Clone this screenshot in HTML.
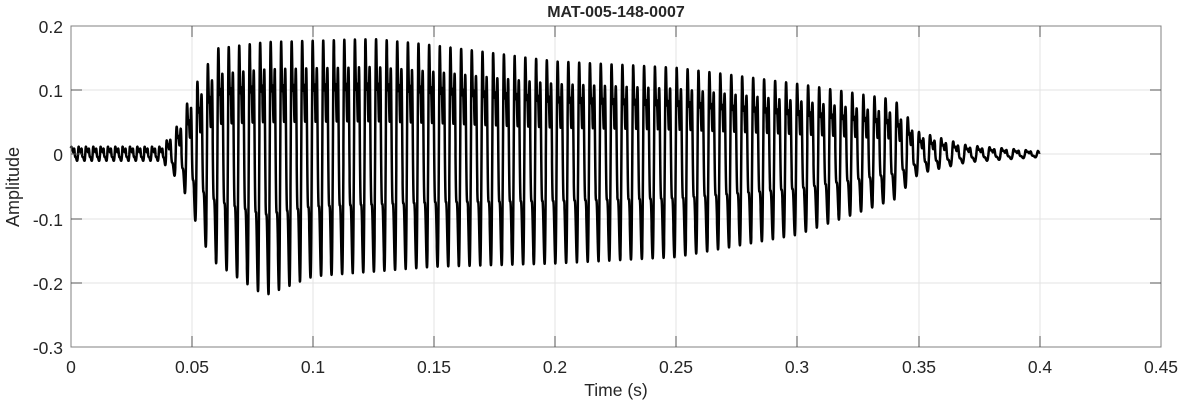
<!DOCTYPE html>
<html><head><meta charset="utf-8"><style>
body{margin:0;background:#fff;}
svg text{font-family:"Liberation Sans",Arial,sans-serif;fill:#262626;}
</style></head><body>
<svg id="s" width="1182" height="404" xmlns="http://www.w3.org/2000/svg">
<rect width="1182" height="404" fill="#fff"/>
<g stroke="#e3e3e3" stroke-width="1">
<line x1="192" y1="26" x2="192" y2="347"/><line x1="313" y1="26" x2="313" y2="347"/><line x1="434" y1="26" x2="434" y2="347"/><line x1="555" y1="26" x2="555" y2="347"/><line x1="676" y1="26" x2="676" y2="347"/><line x1="797" y1="26" x2="797" y2="347"/><line x1="919" y1="26" x2="919" y2="347"/><line x1="1040" y1="26" x2="1040" y2="347"/>
<line x1="71" y1="90" x2="1161" y2="90"/><line x1="71" y1="154" x2="1161" y2="154"/><line x1="71" y1="219" x2="1161" y2="219"/><line x1="71" y1="283" x2="1161" y2="283"/>
</g>
<path id="w" fill="none" stroke="#000" stroke-width="2.5" stroke-linejoin="round" d=""/>
<rect x="71" y="26" width="1090" height="321" fill="none" stroke="#808080" stroke-width="1"/>
<g stroke="#555" stroke-width="1">
<line x1="192" y1="347" x2="192" y2="336"/><line x1="313" y1="347" x2="313" y2="336"/><line x1="434" y1="347" x2="434" y2="336"/><line x1="555" y1="347" x2="555" y2="336"/><line x1="676" y1="347" x2="676" y2="336"/><line x1="797" y1="347" x2="797" y2="336"/><line x1="919" y1="347" x2="919" y2="336"/><line x1="1040" y1="347" x2="1040" y2="336"/>
<line x1="192" y1="26" x2="192" y2="37"/><line x1="313" y1="26" x2="313" y2="37"/><line x1="434" y1="26" x2="434" y2="37"/><line x1="555" y1="26" x2="555" y2="37"/><line x1="676" y1="26" x2="676" y2="37"/><line x1="797" y1="26" x2="797" y2="37"/><line x1="919" y1="26" x2="919" y2="37"/><line x1="1040" y1="26" x2="1040" y2="37"/>
<line x1="71" y1="90" x2="82" y2="90"/><line x1="71" y1="154" x2="82" y2="154"/><line x1="71" y1="219" x2="82" y2="219"/><line x1="71" y1="283" x2="82" y2="283"/>
<line x1="1161" y1="90" x2="1150" y2="90"/><line x1="1161" y1="154" x2="1150" y2="154"/><line x1="1161" y1="219" x2="1150" y2="219"/><line x1="1161" y1="283" x2="1150" y2="283"/>
</g>
<g font-size="17.5" text-anchor="middle">
<text x="71" y="373">0</text><text x="192" y="373">0.05</text><text x="313" y="373">0.1</text><text x="434" y="373">0.15</text><text x="555" y="373">0.2</text><text x="676" y="373">0.25</text><text x="797" y="373">0.3</text><text x="919" y="373">0.35</text><text x="1040" y="373">0.4</text><text x="1161" y="373">0.45</text>
<text x="616" y="396">Time (s)</text>
<text x="616" y="17" font-weight="bold" font-size="16" fill="#000">MAT-005-148-0007</text>
</g>
<g font-size="17.5" text-anchor="end">
<text x="63" y="33">0.2</text><text x="63" y="97">0.1</text><text x="63" y="161">0</text><text x="63" y="226">-0.1</text><text x="63" y="290">-0.2</text><text x="63" y="354">-0.3</text>
</g>
<text x="19" y="187" font-size="18" text-anchor="middle" transform="rotate(-90 19 187)">Amplitude</text>
</svg>
<script>
function interp(pts,t){if(t<=pts[0][0])return pts[0][1];for(var i=1;i<pts.length;i++){if(t<=pts[i][0]){var a=pts[i-1],b=pts[i];return a[1]+(b[1]-a[1])*(t-a[0])/(b[0]-a[0]);}}return pts[pts.length-1][1];}
var P=[[0,0.012],[0.038,0.012],[0.04,0.025],[0.045,0.05],[0.05,0.1],[0.055,0.13],[0.06,0.165],[0.08,0.175],[0.125,0.18],[0.15,0.17],[0.2,0.145],[0.25,0.135],[0.3,0.11],[0.34,0.085],[0.35,0.035],[0.37,0.014],[0.4,0.005]];
var N=[[0,0.01],[0.038,0.01],[0.04,0.025],[0.045,0.04],[0.05,0.09],[0.055,0.14],[0.06,0.17],[0.08,0.22],[0.1,0.19],[0.15,0.175],[0.2,0.17],[0.25,0.16],[0.3,0.125],[0.34,0.07],[0.35,0.03],[0.37,0.012],[0.4,0.004]];
function sh(a){return Math.sin(a)+0.45*Math.sin(2*a+1)+0.3*Math.sin(3*a+0.5)+0.2*Math.sin(4*a+2)+0.12*Math.sin(5*a+0.3);}
var mx=-9,mn=9;for(var k=0;k<1000;k++){var q=sh(k/1000*2*Math.PI);if(q>mx)mx=q;if(q<mn)mn=q;}
var d="",ph=0,n=10000;
for(var i=0;i<=n;i++){var t=i*0.4/n;var f=t<0.04?330:(t<0.36?235-50*t:200);ph+=f*0.4/n;
var v=sh(2*Math.PI*ph);
var y=v>0?v/mx*interp(P,t):-v/mn*interp(N,t);
var X=71+t*2422.2,Y=154.4-y*642;d+=(i?"L":"M")+X.toFixed(1)+" "+Y.toFixed(1);}
document.getElementById("w").setAttribute("d",d);
</script>
</body></html>
